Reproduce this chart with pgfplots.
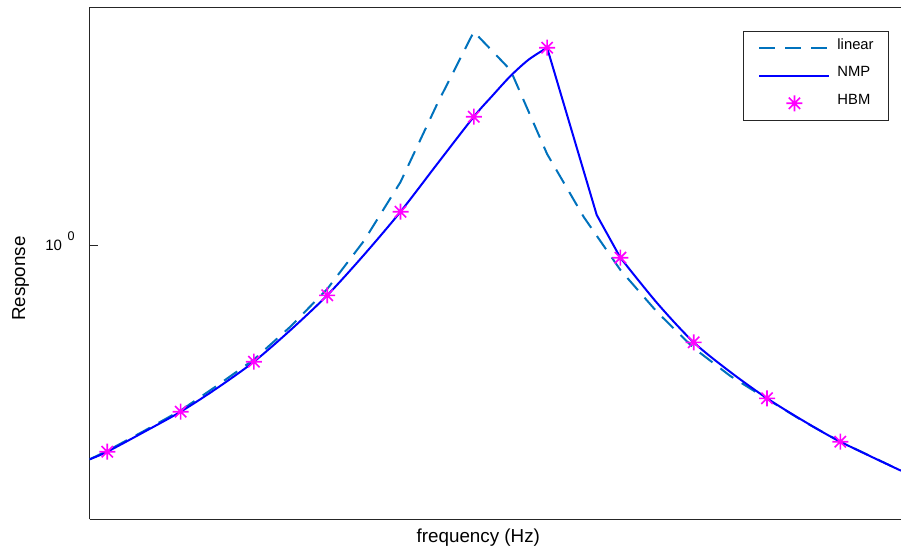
\documentclass[border=0pt]{standalone}
\usepackage{fontspec}
\setmainfont{Liberation Sans}
\usepackage{pgfplots}
\pgfplotsset{compat=1.18}
\usetikzlibrary{calc}
\definecolor{linblue}{RGB}{0,114,189}
\definecolor{nmpblue}{RGB}{0,0,255}
\definecolor{hbmmag}{RGB}{255,0,255}
\definecolor{axgray}{RGB}{38,38,38}

% matlab style '*' marker: plus and cross together
\pgfdeclareplotmark{mstar}{%
  \pgfpathmoveto{\pgfqpoint{0pt}{\pgfplotmarksize}}%
  \pgfpathlineto{\pgfqpoint{0pt}{-\pgfplotmarksize}}%
  \pgfpathmoveto{\pgfqpoint{\pgfplotmarksize}{0pt}}%
  \pgfpathlineto{\pgfqpoint{-\pgfplotmarksize}{0pt}}%
  \pgfpathmoveto{\pgfqpoint{0.707\pgfplotmarksize}{0.707\pgfplotmarksize}}%
  \pgfpathlineto{\pgfqpoint{-0.707\pgfplotmarksize}{-0.707\pgfplotmarksize}}%
  \pgfpathmoveto{\pgfqpoint{-0.707\pgfplotmarksize}{0.707\pgfplotmarksize}}%
  \pgfpathlineto{\pgfqpoint{0.707\pgfplotmarksize}{-0.707\pgfplotmarksize}}%
  \pgfusepathqstroke}

\begin{document}
\begin{tikzpicture}
\begin{axis}[
  name=ax,
  scale only axis,
  width=405.65bp, height=256bp,
  xmin=0.47599, xmax=1.58281,
  ymode=log, ymin=0.12246, ymax=6.2337,
  axis x line=box, axis y line=left,
  y axis line style={-},
  axis line style={axgray, line width=0.65bp},
  xtick=\empty,
  ytick={1},
  yticklabels={10\hspace{2.85bp}\raisebox{5bp}[0pt][0pt]{\fontsize{6.3bp}{7bp}\selectfont 0}},
  minor ytick={},
  tick align=inside,
  major tick length=4bp,
  tick style={axgray, line width=0.65bp},
  yticklabel style={inner sep=0pt, font=\fontsize{7.5bp}{9bp}\selectfont},
  yticklabel shift=7.3bp,
  xlabel={frequency (Hz)},
  ylabel={Response},
  label style={font=\fontsize{9.4bp}{11bp}\selectfont},
  xlabel style={at={(axis description cs:0.479,-0.0457)}, anchor=base},
  ylabel style={at={(axis description cs:-0.0797,0.47)}, anchor=base},
  legend style={at={(axis description cs:0.98558,0.95430)}, anchor=north east,
    draw=axgray, line width=0.65bp, fill=white,
    inner xsep=7.5bp, inner ysep=3.65bp, row sep=4.1bp, column sep=3.5bp,
    font=\fontsize{7.4bp}{9bp}\selectfont,
    nodes={inner sep=0pt, text height=5.3bp, text depth=4.35bp}},
  legend cell align=left,
  legend image code/.code={\draw[mark repeat=2, mark phase=2, #1]
    plot coordinates {(0bp,0bp) (17.5bp,0bp) (35bp,0bp)};},
]
% linear response
\addplot[linblue, line width=1bp, dash pattern=on 8bp off 5bp] table {
x y
0.47599 0.19409
0.50 0.20717
0.55 0.24117
0.60 0.28225
0.65 0.34197
0.70 0.41750
0.75 0.53787
0.80 0.71721
0.85 1.0368
0.90 1.6305
0.95 2.9672
1.00 5.1683
1.05 3.8518
1.10 2.0214
1.15 1.2464
1.20 0.82984
1.25 0.60117
1.30 0.45604
1.35 0.36783
1.40 0.30832
1.45 0.25943
1.50 0.22214
1.58281 0.17783
};
% nonlinear (NMP): rising branch
\addplot[nmpblue, line width=1bp, smooth, tension=0.5] table {
x y
0.47599 0.19409
0.50 0.20576
0.55 0.23933
0.60 0.27966
0.65 0.33549
0.70 0.41053
0.75 0.52359
0.80 0.68339
0.85 0.93111
0.90 1.2982
0.95 1.8722
1.00 2.6915
1.025 3.1550
1.05 3.6784
1.075 4.1750
1.10 4.5709
};
% jump down after the peak
\addplot[nmpblue, line width=1bp, forget plot] table {
x y
1.10 4.5709
1.1677 1.2657
1.20 0.91201
};
% falling branch
\addplot[nmpblue, line width=1bp, smooth, tension=0.5, forget plot] table {
x y
1.20 0.91201
1.25 0.64420
1.30 0.47643
1.35 0.37931
1.40 0.30998
1.45 0.26043
1.50 0.22214
1.58281 0.17783
};
% harmonic balance points
\addplot[only marks, hbmmag, mark=mstar, mark size=4bp, mark options={line width=0.8bp}] table {
x y
0.5 0.20573
0.6 0.27966
0.7 0.41053
0.8 0.68339
0.9 1.2982
1.0 2.6915
1.1 4.5709
1.2 0.91201
1.3 0.47643
1.4 0.30998
1.5 0.22214
};
\legend{linear, NMP, HBM}
\end{axis}
\pgfresetboundingbox
\path[use as bounding box] ($(ax.south west)+(-44.85bp,-15.35bp)$) rectangle ($(ax.north east)+(0bp,3.65bp)$);
\end{tikzpicture}
\end{document}
